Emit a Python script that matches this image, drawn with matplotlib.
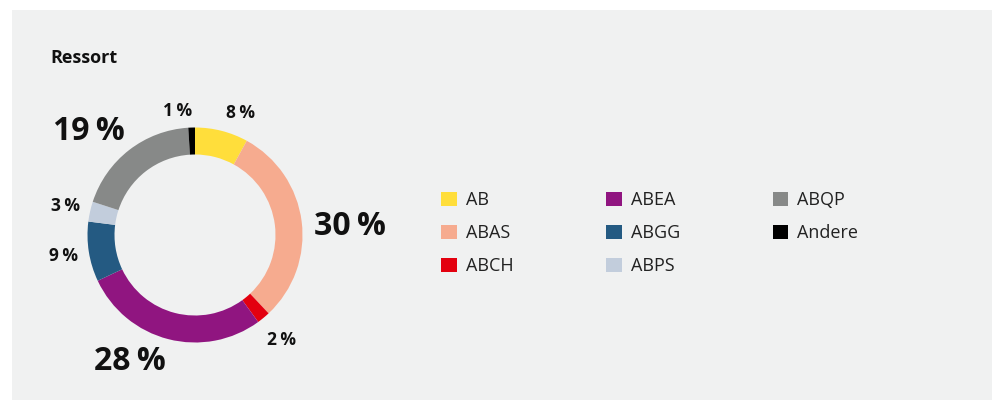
"""Donut chart: Ressort distribution."""

import numpy as np
import matplotlib.pyplot as plt
from matplotlib.patches import Rectangle, Patch

plt.rcParams["font.family"] = ["Open Sans", "DejaVu Sans"]

# data
categories = ["AB", "ABAS", "ABCH", "ABEA", "ABGG", "ABPS", "ABQP", "Andere"]
shares = [8, 30, 2, 28, 9, 3, 19, 1]
colors = ["#ffde3b", "#f6ab8f", "#e3000f", "#901580", "#245a82",
          "#c2cddc", "#878988", "#000000"]

# label styling per slice: big labels for the three largest slices
label_big = [False, True, False, True, False, False, True, False]
label_radius = [1.30, 1.55, 1.36, 1.42, 1.33, 1.33, 1.48, 1.25]
label_nudge = [6, 4, 0, 13, 0, 0, -8, -6]  # degrees, clockwise

W, H = 992, 400
fig = plt.figure(figsize=(W / 100, H / 100), dpi=100, facecolor="white")

# grey panel
fig.patches.append(Rectangle((12 / W, 0), 1 - 12 / W, (H - 10) / H,
                             transform=fig.transFigure, facecolor="#f0f1f1",
                             edgecolor="none", zorder=-5))

fig.text(50 / W, 1 - 58 / H, "Ressort", fontsize=13, fontweight="bold",
         va="center", ha="left", color="#111111")

# donut axes: centre at (195, 235) px, 100 px per unit
cx, cy, half = 195, 235, 160
ax = fig.add_axes([(cx - half) / W, (H - cy - half) / H, 2 * half / W, 2 * half / H])
ax.set_zorder(2)

wedges, _ = ax.pie(shares, colors=colors, startangle=90, counterclock=False,
                   radius=1.075, wedgeprops=dict(width=0.27, edgecolor="none"))
ax.set_xlim(-1.6, 1.6)
ax.set_ylim(-1.6, 1.6)
ax.set_aspect("equal")
ax.axis("off")

for w, s, big, r, nudge in zip(wedges, shares, label_big, label_radius, label_nudge):
    mid = np.deg2rad((w.theta1 + w.theta2) / 2 - nudge)
    ax.text(r * np.cos(mid), r * np.sin(mid), f"{s}\u2009%",
            ha="center", va="center", fontweight="bold",
            fontsize=23 if big else 12.5, color="#111111")

handles = [Patch(facecolor=c, edgecolor="none") for c in colors]
fig.legend(handles, categories, ncol=3, loc="center left",
           bbox_to_anchor=(425 / W, 1 - 233 / H), frameon=False,
           fontsize=13, handlelength=0.85, handleheight=0.85,
           handletextpad=0.5, labelspacing=0.83, columnspacing=5.15,
           labelcolor="#222222")

fig.savefig("out.png", dpi=100, facecolor="white")
